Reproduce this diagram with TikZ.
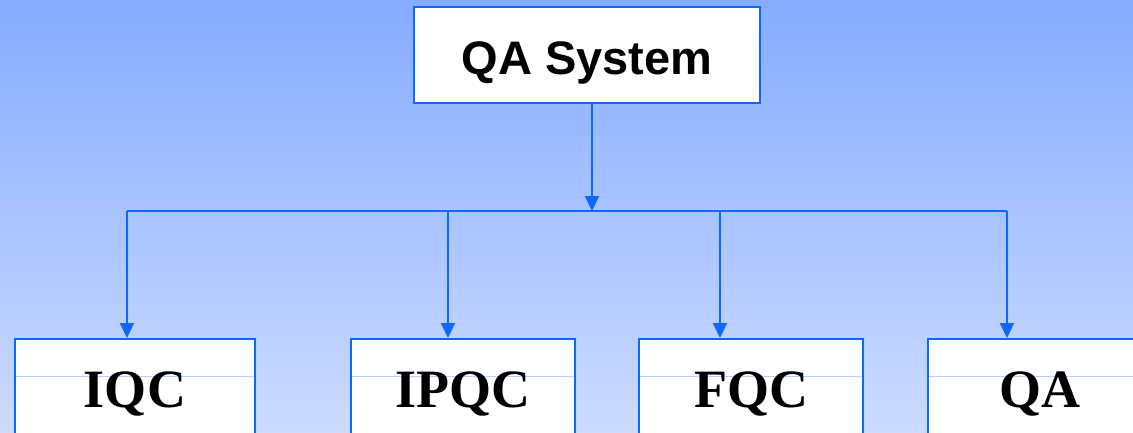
\documentclass[tikz,border=0pt]{standalone}
\usepackage{fontspec}
\setmainfont{Liberation Serif}
\setsansfont{Liberation Sans}
\usetikzlibrary{arrows.meta}

\definecolor{bgtop}{RGB}{134,172,255}
\definecolor{bgbottom}{RGB}{204,219,255}
\definecolor{qablue}{RGB}{14,104,255}
\definecolor{midgray}{RGB}{190,205,250}

\tikzset{
    topbox/.style={draw=qablue, line width=1.8pt, fill=white, anchor=north,
        inner ysep=0pt, minimum width=346pt, text height=68pt, text depth=28pt,
        font=\sffamily\bfseries\fontsize{47}{50}\selectfont},
    unitbox/.style={draw=qablue, line width=1.8pt, fill=white, anchor=north,
        inner ysep=0pt, minimum width=#1, text height=69pt, text depth=70pt,
        font=\rmfamily\bfseries\fontsize{54}{56}\selectfont,
        path picture={\draw[midgray, line width=0.8pt]
            ([yshift=-37pt]path picture bounding box.north west) --
            ([yshift=-37pt]path picture bounding box.north east);}},
    link/.style={qablue, line width=2pt},
    drop/.style={link, -{Triangle[width=14pt,length=15pt]}}
}

\begin{document}
\begin{tikzpicture}[x=1pt, y=-1pt]
    \useasboundingbox (0,0) rectangle (1133,433);
    \clip (0,0) rectangle (1133,433);
    \fill[top color=bgtop, bottom color=bgbottom] (0,0) rectangle (1133,433);

    % top
    \node[topbox] (sys) at (587,6) {QA System};

    % bottom row
    \node[unitbox=240pt] (iqc)  at (135,338)  {IQC};
    \node[unitbox=224pt] (ipqc) at (463,338)  {IPQC};
    \node[unitbox=224pt] (fqc)  at (751,338)  {FQC};
    \node[unitbox=224pt] (qa)   at (1040,338) {QA};

    \coordinate (hub) at (592,211);
    \coordinate (d1) at (127,211);
    \coordinate (d2) at (448,211);
    \coordinate (d3) at (720,211);
    \coordinate (d4) at (1007,211);

    \draw[drop] (sys.south -| hub) -- (hub);
    \draw[link] (d1) -- (d4);

    \draw[drop] (d1) -- (d1 |- iqc.north);
    \draw[drop] (d2) -- (d2 |- ipqc.north);
    \draw[drop] (d3) -- (d3 |- fqc.north);
    \draw[drop] (d4) -- (d4 |- qa.north);
\end{tikzpicture}
\end{document}
